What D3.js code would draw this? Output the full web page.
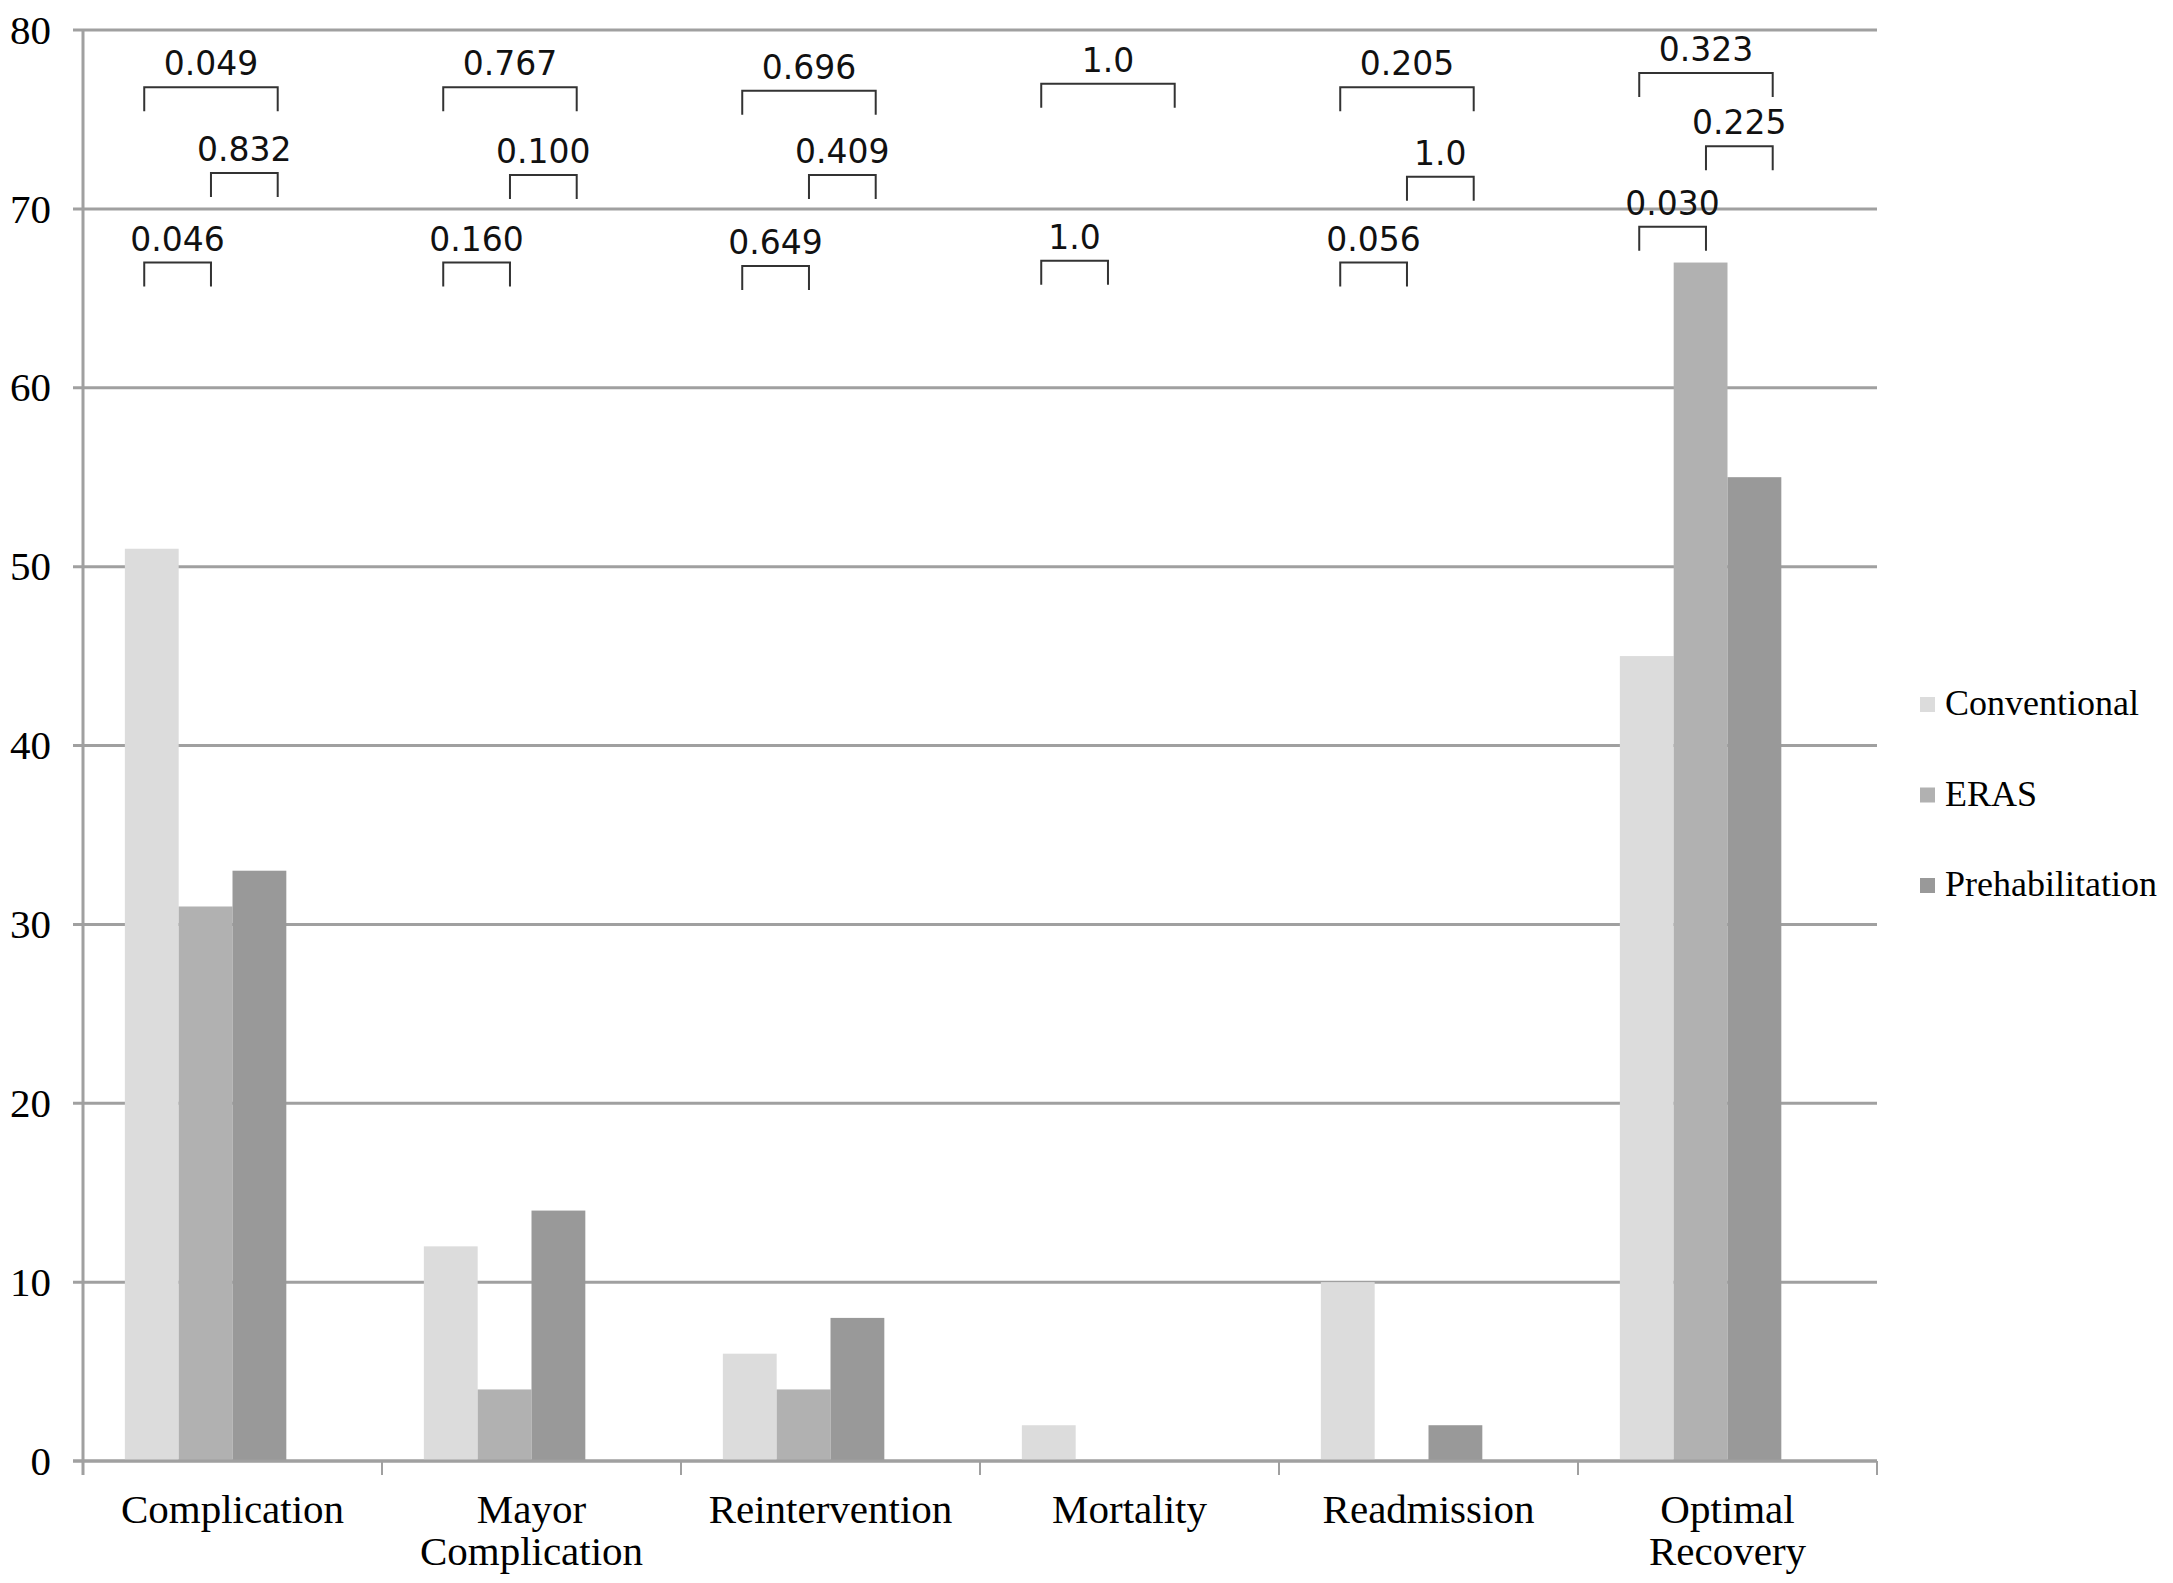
<!DOCTYPE html>
<html>
<head>
<meta charset="utf-8">
<script src="https://cdn.jsdelivr.net/npm/d3@7"></script>
<style>
  body { margin: 0; background: #fff; }
  .tick-label { font-family: "Liberation Serif", "Times New Roman", serif; }
</style>
</head>
<body>
<div id="chart"></div>
<script>
// data
const categories = ['Complication', 'Mayor Complication', 'Reintervention', 'Mortality', 'Readmission', 'Optimal Recovery'];
const series = ['Conventional', 'ERAS', 'Prehabilitation'];
const conventional = [51, 12, 6, 2, 10, 45];
const eras = [31, 4, 4, 0, 0, 67];
const prehabilitation = [33, 14, 8, 0, 2, 55];
const yTicks = [0, 10, 20, 30, 40, 50, 60, 70, 80];

// p-value brackets: category, pair of groups, label, height (in axis units)
const brackets = [
  { cat: 'Complication', from: 'Conventional', to: 'ERAS', p: '0.046', at: 67.0 },
  { cat: 'Complication', from: 'ERAS', to: 'Prehabilitation', p: '0.832', at: 72.0 },
  { cat: 'Complication', from: 'Conventional', to: 'Prehabilitation', p: '0.049', at: 76.8 },
  { cat: 'Mayor Complication', from: 'Conventional', to: 'ERAS', p: '0.160', at: 67.0 },
  { cat: 'Mayor Complication', from: 'ERAS', to: 'Prehabilitation', p: '0.100', at: 71.9 },
  { cat: 'Mayor Complication', from: 'Conventional', to: 'Prehabilitation', p: '0.767', at: 76.8 },
  { cat: 'Reintervention', from: 'Conventional', to: 'ERAS', p: '0.649', at: 66.8 },
  { cat: 'Reintervention', from: 'ERAS', to: 'Prehabilitation', p: '0.409', at: 71.9 },
  { cat: 'Reintervention', from: 'Conventional', to: 'Prehabilitation', p: '0.696', at: 76.6 },
  { cat: 'Mortality', from: 'Conventional', to: 'ERAS', p: '1.0', at: 67.1 },
  { cat: 'Mortality', from: 'Conventional', to: 'Prehabilitation', p: '1.0', at: 77.0 },
  { cat: 'Readmission', from: 'Conventional', to: 'ERAS', p: '0.056', at: 67.0 },
  { cat: 'Readmission', from: 'ERAS', to: 'Prehabilitation', p: '1.0', at: 71.8 },
  { cat: 'Readmission', from: 'Conventional', to: 'Prehabilitation', p: '0.205', at: 76.8 },
  { cat: 'Optimal Recovery', from: 'Conventional', to: 'ERAS', p: '0.030', at: 69.0 },
  { cat: 'Optimal Recovery', from: 'ERAS', to: 'Prehabilitation', p: '0.225', at: 73.5 },
  { cat: 'Optimal Recovery', from: 'Conventional', to: 'Prehabilitation', p: '0.323', at: 77.6 },
];

const colors = ['#dcdcdc', '#b1b1b1', '#999999'];

const width = 2173, height = 1583;
const margin = { left: 83, top: 30, right: 296, bottom: 122 };
const boundW = width - margin.left - margin.right;
const boundH = height - margin.top - margin.bottom;

const rows = categories.map((c, i) => ({
  key: c,
  values: [conventional[i], eras[i], prehabilitation[i]].map((v, j) => ({ series: series[j], value: v }))
}));

const svg = d3.select('#chart').append('svg')
  .attr('width', width).attr('height', height);

const bound = svg.append('g')
  .attr('transform', `translate(${margin.left},${margin.top})`);

// scales
const outerPad = 0.14;
const x0 = d3.scaleBand().domain(categories).range([0, boundW])
  .paddingInner(outerPad * 2).paddingOuter(outerPad);
// 4th empty slot, like the original spreadsheet chart
const x1 = d3.scaleBand().domain([...series, '']).range([0, x0.bandwidth()]);
const y = d3.scaleLinear().domain([0, 80]).range([boundH, 0]);
const xb = d3.scalePoint().domain(series).range([x0.bandwidth() * 0.09, x0.bandwidth() * 0.71]);
const color = d3.scaleOrdinal().domain(series).range(colors);

// gridlines
bound.append('g').selectAll('line').data(yTicks).join('line')
  .attr('x1', -10).attr('x2', boundW)
  .attr('y1', d => y(d)).attr('y2', d => y(d))
  .attr('stroke', '#a0a0a0').attr('stroke-width', 3);

// y axis labels
const yAxis = bound.append('g')
  .call(d3.axisLeft(y).tickValues(yTicks).tickSize(0).tickPadding(32).tickFormat(d3.format('d')));
yAxis.select('.domain').remove();
yAxis.selectAll('text')
  .attr('class', 'tick-label')
  .style('font-size', '41px').attr('fill', '#000');

// vertical axis line
bound.append('line')
  .attr('x1', 0).attr('x2', 0).attr('y1', y(80)).attr('y2', boundH + 14)
  .attr('stroke', '#a0a0a0').attr('stroke-width', 3);

// category separators
const seps = categories.map(c => x0(c) - x0.step() * outerPad).concat([boundW]);
bound.append('g').selectAll('line').data(seps.slice(1)).join('line')
  .attr('x1', d => d).attr('x2', d => d)
  .attr('y1', boundH).attr('y2', boundH + 14)
  .attr('stroke', '#a0a0a0').attr('stroke-width', 2);

// bars
bound.append('g').selectAll('g').data(rows).join('g')
  .attr('transform', d => `translate(${x0(d.key)},0)`)
  .selectAll('rect').data(d => d.values).join('rect')
  .attr('x', d => x1(d.series))
  .attr('y', d => y(d.value))
  .attr('width', x1.bandwidth())
  .attr('height', d => y(0) - y(d.value))
  .attr('fill', d => color(d.series));

// redraw zero line over bars
bound.append('line')
  .attr('x1', -10).attr('x2', boundW).attr('y1', y(0)).attr('y2', y(0))
  .attr('stroke', '#a0a0a0').attr('stroke-width', 3);

// x axis labels
const xAxis = bound.append('g')
  .attr('transform', `translate(0,${boundH})`)
  .call(d3.axisBottom(x0).tickSize(0).tickFormat(''));
xAxis.select('.domain').remove();
xAxis.selectAll('.tick').append('text')
  .attr('class', 'tick-label')
  .attr('text-anchor', 'middle')
  .style('font-size', '41px')
  .attr('fill', '#000')
  .selectAll('tspan').data(d => d.split(' ')).join('tspan')
  .attr('x', 0)
  .attr('y', (d, i) => 62 + i * 42)
  .text(d => d);

// p-value brackets
const leg = 24;
const br = bound.append('g').selectAll('g').data(brackets).join('g')
  .attr('transform', d => `translate(${x0(d.cat)},0)`);
br.append('path')
  .attr('d', d => {
    const xl = xb(d.from), xr = xb(d.to), yy = y(d.at);
    return `M${xl},${yy + leg}V${yy}H${xr}V${yy + leg}`;
  })
  .attr('fill', 'none').attr('stroke', '#333').attr('stroke-width', 2);
br.append('text')
  .attr('x', d => (xb(d.from) + xb(d.to)) / 2)
  .attr('y', d => y(d.at) - 12)
  .attr('text-anchor', 'middle')
  .style('font-family', '"DejaVu Sans", sans-serif')
  .style('font-size', '33px')
  .attr('fill', '#111')
  .text(d => d.p);

// legend
const legend = svg.append('g').attr('transform', 'translate(1920,705)');
const item = legend.selectAll('g').data(series).join('g')
  .attr('transform', (d, i) => `translate(0,${i * 90.5})`);
item.append('rect')
  .attr('x', 0).attr('y', -8).attr('width', 15).attr('height', 15)
  .attr('fill', d => color(d));
item.append('text')
  .attr('class', 'tick-label')
  .attr('x', 25).attr('y', 10)
  .style('font-size', '36px')
  .attr('fill', '#000')
  .text(d => d);
</script>
</body>
</html>
